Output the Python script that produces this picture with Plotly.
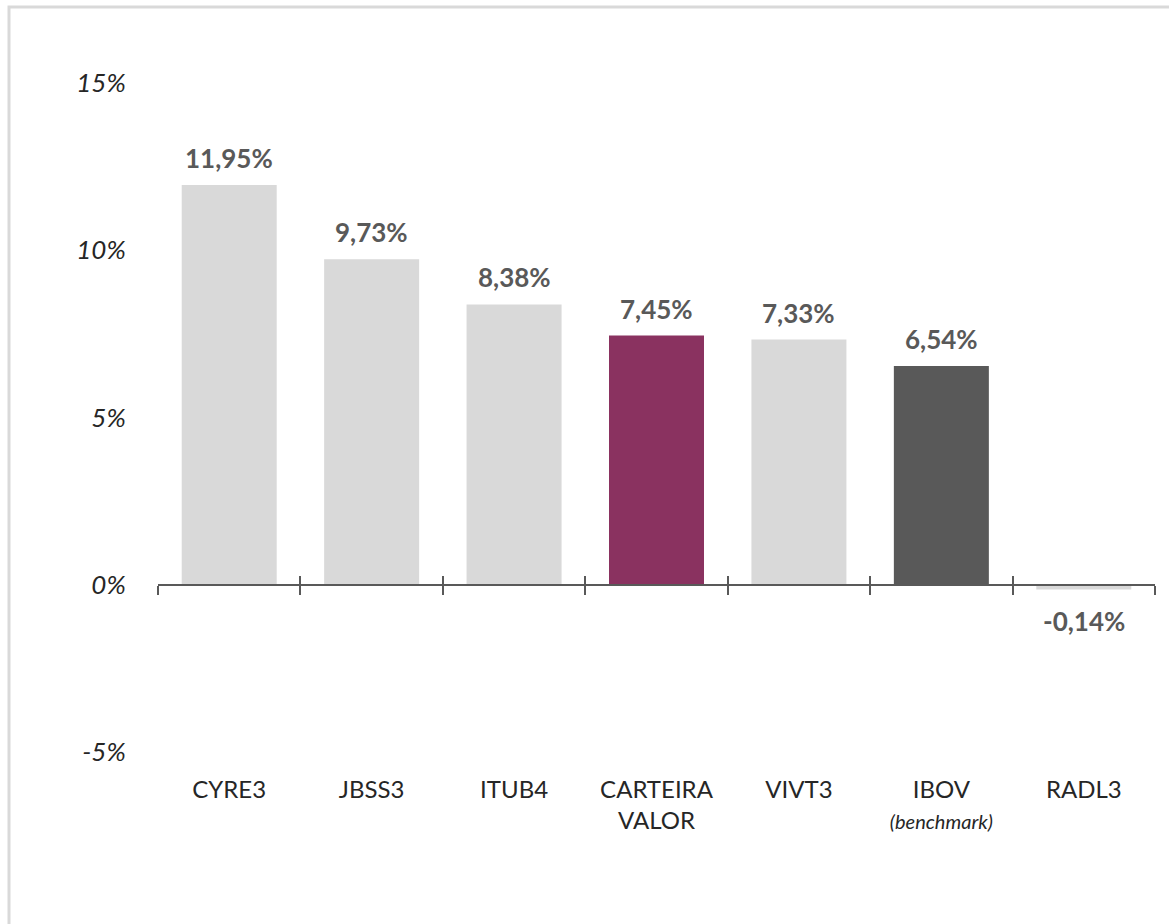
import plotly.graph_objects as go

categories = ["CYRE3", "JBSS3", "ITUB4", "CARTEIRA", "VIVT3", "IBOV", "RADL3"]
tick_labels = ["CYRE3", "JBSS3", "ITUB4", "CARTEIRA<br>VALOR", "VIVT3",
               "IBOV<br><i><span style='font-size:20px'>(benchmark)</span></i>", "RADL3"]
values = [11.95, 9.73, 8.38, 7.45, 7.33, 6.54, -0.14]
bar_colors = ["#d9d9d9", "#d9d9d9", "#d9d9d9", "#8a3260", "#d9d9d9", "#595959", "#d9d9d9"]
y_ticks = [-5, 0, 5, 10, 15]
y_tick_text = ["-5%", "0%", "5%", "10%", "15%"]

FONT = "Lato"

fig = go.Figure()
fig.add_trace(go.Bar(
    x=categories, y=values, marker=dict(color=bar_colors, line=dict(width=0)),
    hoverinfo="skip", showlegend=False,
))
# invisible helpers so the overlay axes (axis line with crossing ticks) render
for ax in ["x2", "x3"]:
    fig.add_trace(go.Scatter(x=categories, y=values, xaxis=ax, mode="markers",
                             marker=dict(opacity=0), hoverinfo="skip", showlegend=False))

for c, v in zip(categories, values):
    label = f"{v:.2f}".replace(".", ",") + "%"
    fig.add_annotation(
        x=c, y=v, xref="x", yref="y", text=label, showarrow=False,
        yanchor="bottom" if v >= 0 else "top", yshift=9 if v >= 0 else -14,
        font=dict(family=FONT, size=26, color="#595959", weight="bold"),
    )

xr = [-0.5, len(categories) - 0.5]
fig.update_layout(
    width=1169, height=924,
    margin=dict(l=158, r=14, t=83, b=172),
    paper_bgcolor="white", plot_bgcolor="white",
    bargap=0.333,
    xaxis=dict(
        type="category", categoryorder="array", categoryarray=categories,
        tickvals=categories, ticktext=tick_labels, range=xr,
        showline=False, showgrid=False, zeroline=False,
        ticks="outside", ticklen=16, tickcolor="rgba(0,0,0,0)",
        tickfont=dict(family=FONT, size=24, color="#262626"),
    ),
    xaxis2=dict(
        type="category", categoryorder="array", categoryarray=categories,
        overlaying="x", anchor="free", position=0.25, range=xr,
        showticklabels=False, showgrid=False, zeroline=False,
        showline=True, linecolor="#595959", linewidth=2,
        ticks="outside", tickson="boundaries", ticklen=9, tickwidth=2, tickcolor="#595959",
    ),
    xaxis3=dict(
        type="category", categoryorder="array", categoryarray=categories,
        overlaying="x", anchor="free", position=0.25, range=xr,
        showticklabels=False, showgrid=False, zeroline=False, showline=False,
        ticks="inside", tickson="boundaries", ticklen=9, tickwidth=2, tickcolor="#595959",
    ),
    yaxis=dict(
        range=[-5, 15], tickvals=y_ticks, ticktext=y_tick_text,
        showline=False, showgrid=False, zeroline=False,
        ticks="outside", ticklen=26, tickcolor="rgba(0,0,0,0)",
        tickfont=dict(family=FONT, size=26, color="#262626", style="italic"),
    ),
    shapes=[dict(type="rect", xref="paper", yref="paper",
                 x0=-149 / 997, x1=1.5, y0=-1, y1=1 + 76 / 669,
                 line=dict(color="#d9d9d9", width=3), layer="below")],
)

fig.write_html("out.html")
